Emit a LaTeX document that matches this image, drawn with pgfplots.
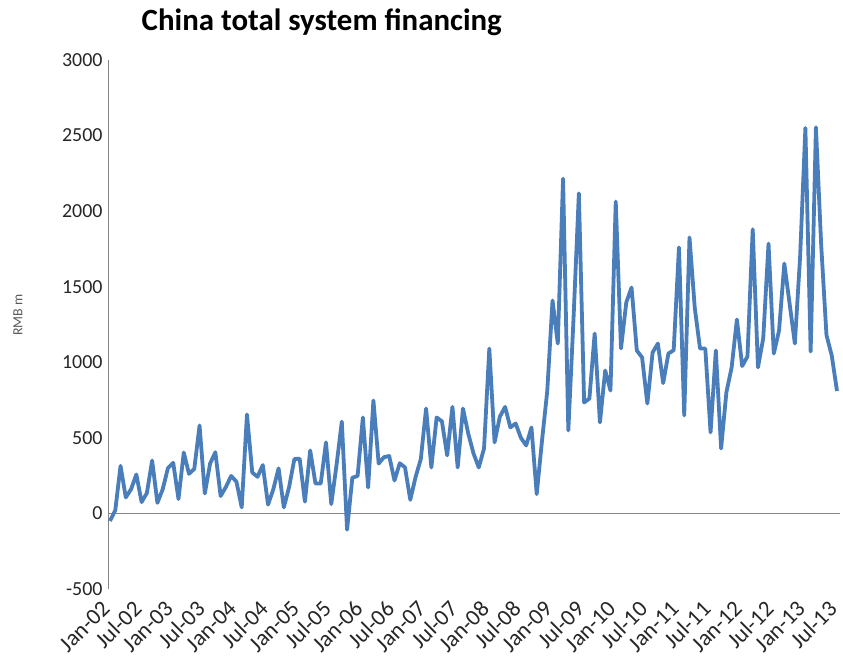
\documentclass[border=0pt]{standalone}
\usepackage{pgfplots}
\pgfplotsset{compat=1.18}
\usepackage{pgfplotstable}
\usepackage{fontspec}
\setmainfont{Carlito}
\definecolor{lineblue}{RGB}{74,126,187}
\definecolor{axgray}{RGB}{134,134,134}
\pgfplotstableread{
i v
0 -50
1 20
2 315
3 106
4 160
5 258
6 75
7 135
8 350
9 70
10 160
11 300
12 335
13 95
14 403
15 262
16 295
17 582
18 132
19 330
20 405
21 115
22 175
23 248
24 210
25 40
26 655
27 271
28 242
29 320
30 58
31 160
32 298
33 40
34 175
35 360
36 362
37 78
38 417
39 198
40 198
41 470
42 62
43 320
44 608
45 -108
46 236
47 248
48 635
49 172
50 747
51 330
52 372
53 380
54 218
55 332
56 304
57 90
58 240
59 360
60 694
61 304
62 635
63 610
64 384
65 705
66 304
67 694
68 529
69 397
70 304
71 430
72 1091
73 470
74 640
75 705
76 569
77 595
78 500
79 450
80 569
81 128
82 480
83 810
84 1409
85 1124
86 2215
87 549
88 1300
89 2118
90 734
91 760
92 1190
93 602
94 946
95 813
96 2063
97 1091
98 1396
99 1495
100 1078
101 1032
102 727
103 1065
104 1124
105 862
106 1058
107 1080
108 1760
109 648
110 1826
111 1360
112 1091
113 1091
114 536
115 1078
116 430
117 800
118 966
119 1283
120 975
121 1038
122 1880
123 966
124 1160
125 1786
126 1058
127 1210
128 1653
129 1389
130 1124
131 1700
132 2550
133 1071
134 2555
135 1775
136 1180
137 1045
138 810
}\tsf
\begin{document}
\begin{tikzpicture}
\begin{axis}[
  scale only axis, width=732bp, height=529bp,
  xmin=-0.38, xmax=138.57, ymin=-500, ymax=3000,
  axis y line*=left, axis x line*=bottom,
  x axis line style={draw=none},
  y axis line style={axgray, line width=0.8bp, -},
  major tick length=0pt,
  ytick={-500,0,500,1000,1500,2000,2500,3000},
  yticklabels={-500,0,500,1000,1500,2000,2500,3000},
  yticklabel style={font=\fontsize{20}{20}\selectfont, color=black!85, xshift=-2bp},
  xtick={0,6,...,138},
  xticklabels={Jan-02,Jul-02,Jan-03,Jul-03,Jan-04,Jul-04,Jan-05,Jul-05,Jan-06,Jul-06,Jan-07,Jul-07,Jan-08,Jul-08,Jan-09,Jul-09,Jan-10,Jul-10,Jan-11,Jul-11,Jan-12,Jul-12,Jan-13,Jul-13},
  xticklabel style={xshift=-4bp, yshift=-16bp, rotate=45, anchor=east, inner sep=0pt, font=\fontsize{23}{23}\selectfont, color=black!85},
  extra y ticks={0}, extra y tick labels={},
  extra y tick style={grid=major, major grid style={axgray, line width=0.8bp}},
  clip=false,
]
\addplot[lineblue, line width=3.8bp, line join=round] table[x=i, y=v] {\tsf};
\coordinate (sw) at (rel axis cs:0,0);
\node[font=\bfseries\fontsize{31}{31}\selectfont] at (rel axis cs:0.292,1) [yshift=38bp] {China total system financing};
\node[xshift=-90bp, rotate=90, font=\fontsize{14}{14}\selectfont, color=black!65] at (rel axis cs:0,0.518) {RMB m};
\end{axis}
\pgfresetboundingbox
\path[use as bounding box] (sw) ++(-108bp,-82bp) rectangle ++(843bp,671bp);
\end{tikzpicture}
\end{document}
